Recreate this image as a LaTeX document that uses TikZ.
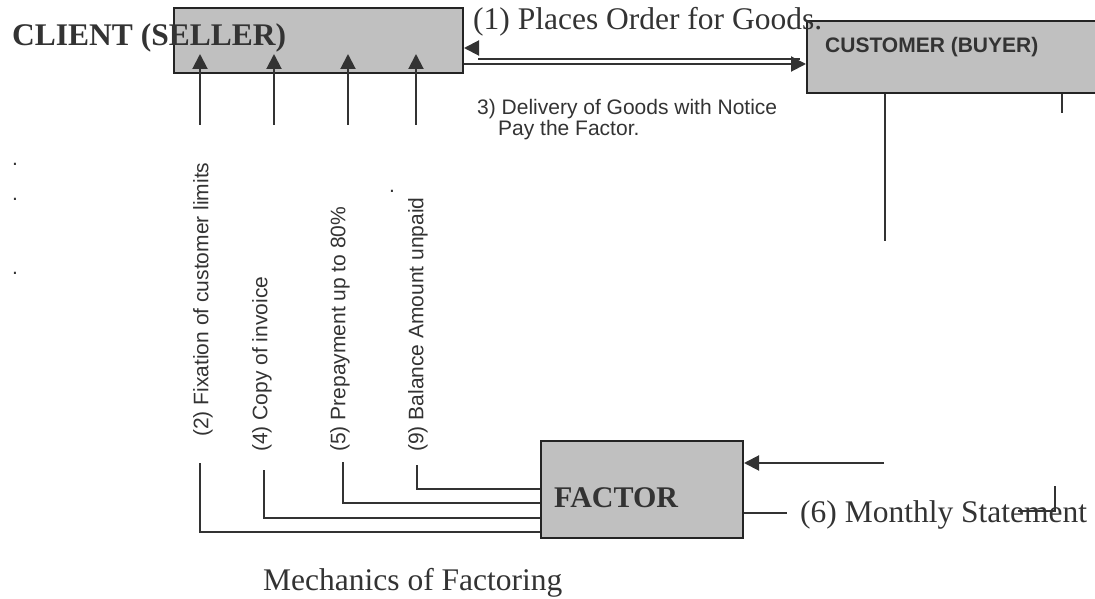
\documentclass[tikz,border=0pt]{standalone}
\usepackage{fontspec}
\setmainfont{Liberation Serif}
\setsansfont{Liberation Sans}
\usetikzlibrary{arrows.meta}
\definecolor{ink}{HTML}{333333}
\definecolor{boxgray}{HTML}{C0C0C0}

\begin{document}
\begin{tikzpicture}[x=1pt,y=-1pt,
  box/.style={draw=ink!70!black,line width=2pt,fill=boxgray,inner sep=0pt},
  wire/.style={ink,line width=2pt},
  arr/.style={wire,-{Triangle[length=15pt,width=15pt]}},
  serif/.style={text=ink,font=\fontsize{31.5}{36}\selectfont,inner sep=0pt},
  sans/.style={text=ink,font=\sffamily\fontsize{21}{24}\selectfont,inner sep=0pt}]
\useasboundingbox (0,0) rectangle (1095,599);

% the three parties
\node[box,minimum width=289pt,minimum height=65pt] (client) at (318.5,40.5) {};
\node[box,minimum width=300pt,minimum height=72pt] (customer) at (957,57) {};
\node[box,minimum width=202pt,minimum height=97pt] (factor) at (642,489.5) {};

\node[serif,anchor=base west,font=\bfseries\fontsize{31.5}{36}\selectfont] (clienttxt) at (12,46) {CLIENT (SELLER)};
\node[sans,anchor=base west,font=\sffamily\bfseries\fontsize{21}{24}\selectfont] (custtxt) at (825,53) {CUSTOMER (BUYER)};
\node[serif,anchor=base west,font=\bfseries\fontsize{30}{36}\selectfont] (factortxt) at (554,507) {FACTOR};

% order and delivery
\draw[wire] (478,59) -- (800,59);
\draw[arr] (client.east |- 0,64) -- (customer.west |- 0,64);
\draw[arr] (478,48) -- (client.east |- 0,48);
\node[serif,anchor=base west] (order) at (473,30) {(1) Places Order for Goods.};
\node[sans,anchor=base west] (delivery) at (477,115) {3) Delivery of Goods with Notice};
\node[sans,anchor=base west] (payfactor) at (498,136) {Pay the Factor.};

% client <-> factor
\foreach \x in {200,274,348,416}
  \draw[arr,shorten >=-20pt] (\x,125) coordinate (tail\x) -- (tail\x |- client.south);

\foreach \x/\y/\name/\txt in {203/437/l2/(2) Fixation of customer limits,
                              262/452/l4/(4) Copy of invoice,
                              340/452/l5/(5) Prepayment up to 80\%,
                              418/452/l9/(9) Balance Amount unpaid}
  \node[sans,rotate=90,anchor=west] (\name) at (\x,\y) {\txt};

\foreach \x/\ya/\yb in {200/463/532, 264/470/518, 343/462/503, 417/465/489}
  \draw[wire] (\x,\ya) |- (factor.west |- 0,\yb);

% customer -> factor
\draw[wire] (customer.south -| 885,0) -- (885,241) coordinate (custend);
\draw[arr] (884,463) coordinate (payin) -- (payin -| factor.east);
\draw[wire] (customer.south -| 1062,0) -- (1062,113) coordinate (stmtend);
\draw[wire] (1055,486) -- (1055,511) -- (1018,511);
\draw[wire] (factor.east |- 0,513) -- (787,513);
\node[serif,anchor=base west] (statement) at (800,522) {(6) Monthly Statement};

% stray dots
\foreach \y in {163,198,272}
  \node[sans,anchor=base] (dot\y) at (15,\y+2) {.};
\node[sans,anchor=base] (dotnine) at (392,193) {.};

\node[serif,anchor=base west] (caption) at (263,590) {Mechanics of Factoring};
\end{tikzpicture}
\end{document}
